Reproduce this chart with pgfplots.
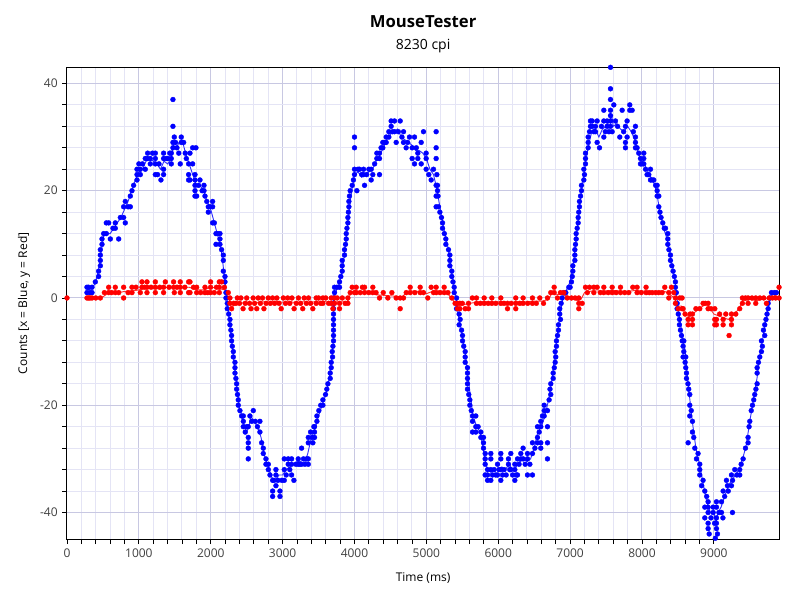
\documentclass[border=0pt]{standalone}
\usepackage{pgfplots}
\pgfplotsset{compat=1.18}
\usepackage{fontspec}
\setmainfont{Open Sans}
\definecolor{gmaj}{RGB}{200,200,226}
\definecolor{gmin}{RGB}{228,228,245}
\definecolor{bdot}{RGB}{0,0,255}
\definecolor{rdot}{RGB}{255,0,0}
\begin{document}
\begin{tikzpicture}
\useasboundingbox (-50.25pt,-45.5pt) rectangle (549.75pt,404.5pt);
\begin{axis}[
  at={(0,0)}, anchor=south west,
  scale only axis, width=534.2pt, height=354pt,
  xmin=0, xmax=9910, ymin=-45, ymax=43,
  xtick={0,1000,...,9000}, ytick={-40,-20,0,20,40},
  minor x tick num=4, minor y tick num=4,
  grid=both,
  major grid style={gmaj, line width=0.75pt},
  minor grid style={gmin, line width=0.75pt},
  tick align=outside, tick pos=left,
  major tick length=3.5pt, minor tick length=3.5pt,
  every tick/.style={black, line width=0.6pt},
  axis line style={black, line width=0.75pt},
  /pgf/number format/assume math mode=true,
  /pgf/number format/1000 sep={},
  tick label style={font=\fontsize{9}{10}\selectfont, text=black!75},
  xlabel={Time (ms)}, ylabel={Counts [x = Blue, y = Red]},
  label style={font=\fontsize{9}{10}\selectfont},
  xlabel style={at={(axis description cs:0.5,-0.082)}, anchor=center},
  ylabel style={at={(axis description cs:-0.0604,0.5)}, anchor=center},
]
% blue dots
\addplot[bdot, only marks, mark=*, mark size=1.85pt, mark options={fill=bdot, draw=bdot, line width=0.25pt}] coordinates {
(278,2)(278,1)(300,2)(320,1)(348,2)(348,1)(394,3)(440,4)(440,5)(464,6)(464,7)(464,8)(464,9)(487,11)(487,10)(510,12)(547,14)(547,12)(580,14)(603,11)(640,13)(672,13)(672,14)(719,11)(742,15)(788,15)(788,17)(811,14)(811,18)(850,17)(881,17)(881,19)(904,20)(927,21)(974,22)(974,23)(974,24)(1000,25)(1020,24)(1020,23)(1050,25)(1089,26)(1089,24)(1122,27)(1122,26)(1159,26)(1159,25)(1190,27)(1229,27)(1229,26)(1229,25)(1229,23)(1261,23)(1280,25)(1307,22)(1344,27)(1344,26)(1344,24)(1344,23)(1380,26)(1405,26)(1430,27)(1451,27)(1451,26)(1451,25)(1474,32)(1474,37)(1474,29)(1474,28)(1493,30)(1510,29)(1530,28)(1555,27)(1576,25)(1590,30)(1590,29)(1623,29)(1645,27)(1660,26)(1692,25)(1692,23)(1692,22)
(1711,27)(1711,22)(1748,28)(1748,25)(1781,23)(1781,22)(1781,21)(1781,20)(1781,19)(1794,28)(1804,19)(1830,21)(1850,22)(1880,20)(1906,21)(1906,20)(1920,19)(1945,18)(1966,17)(1966,16)(1990,17)(2026,18)(2026,17)(2026,14)(2050,14)(2073,12)(2073,10)(2100,12)(2128,12)(2128,11)(2128,10)(2151,9)(2175,8)(2175,7)(2175,5)(2198,4)(2198,3)(2212,1)(2212,0)(2230,-1)(2230,-2)(2250,-3)(2267,-4)(2267,-5)(2280,-6)(2290,-7)(2290,-8)(2300,-9)(2314,-10)(2314,-11)(2337,-12)(2337,-13)(2337,-14)(2350,-15)(2360,-16)(2360,-17)(2372,-18)(2383,-19)(2383,-20)(2406,-21)(2430,-22)(2453,-22)(2453,-23)(2453,-24)(2480,-25)(2500,-24)(2522,-24)(2522,-26)(2522,-27)(2522,-28)(2522,-30)(2545,-22)(2570,-23)(2592,-21)(2620,-23)(2650,-24)(2684,-23)(2684,-25)(2708,-27)(2731,-28)(2731,-29)(2768,-30)(2768,-31)(2801,-31)(2801,-32)(2824,-33)(2861,-34)(2861,-36)(2861,-37)(2880,-34)(2907,-32)(2907,-33)(2907,-35)(2935,-34)(2963,-36)(2963,-37)(2990,-34)(3023,-32)(3023,-34)(3023,-30)(3050,-33)(3078,-30)(3078,-31)(3100,-32)(3125,-30)(3125,-31)(3125,-33)(3157,-34)(3185,-31)(3217,-30)(3217,-31)(3240,-31)(3264,-28)(3264,-31)(3290,-30)(3310,-31)(3335,-30)(3357,-30)(3357,-31)(3357,-27)(3357,-26)(3389,-25)(3410,-26)(3421,-27)(3435,-24)
(3444,-24)(3444,-25)(3444,-26)(3477,-22)(3477,-23)(3504,-21)(3530,-20)(3560,-19)(3560,-20)(3597,-18)(3615,-17)(3630,-16)(3662,-15)(3662,-14)(3676,-12)(3676,-13)(3690,-10)(3695,-11)(3700,-9)(3708,-8)(3708,-7)(3708,-6)(3708,-5)(3708,-4)(3708,-3)(3708,-2)(3708,-1)(3708,0)(3722,1)(3722,2)(3755,2)(3792,2)(3792,3)(3810,4)(3829,5)(3829,6)(3829,7)(3861,8)(3861,9)(3875,10)(3885,11)(3885,12)(3895,13)(3908,14)(3908,15)(3915,16)(3922,17)(3922,18)(3930,19)(3940,20)(3968,21)(3985,22)(4000,23)(4000,24)(4000,30)(4000,28)(4033,20)(4050,24)(4070,24)(4100,23)(4126,23)(4126,24)(4140,21)(4170,23)(4200,24)(4232,24)(4232,22)(4255,23)(4280,25)(4311,26)(4311,27)(4348,27)(4348,26)(4348,23)(4370,28)(4394,29)(4394,28)(4420,29)(4441,30)(4441,29)(4478,30)(4478,31)(4510,32)(4510,33)(4530,31)(4557,31)(4557,33)(4580,29)(4610,31)(4636,33)(4660,30)(4682,29)(4682,31)(4719,28)(4740,29)(4765,30)(4802,28)(4802,26)(4835,25)(4835,30)(4860,28)(4881,26)(4881,27)(4928,25)(4928,29)(4960,31)(4997,27)(4997,26)(4997,24)(5034,23)(5067,22)(5099,24)(5136,31)(5136,28)(5136,26)(5136,21)(5136,19)(5136,17)
(5146,23)(5155,21)(5155,20)(5162,19)(5169,17)(5188,16)(5210,15)(5225,14)(5225,13)(5250,12)(5271,11)(5271,10)(5308,9)(5327,8)(5327,7)(5327,6)(5354,5)(5354,4)(5370,3)(5387,2)(5387,1)(5420,0)(5420,-1)(5420,-2)(5456,-3)(5456,-5)(5470,-4)(5490,-6)(5503,-7)(5503,-8)(5520,-9)(5540,-10)(5540,-11)(5540,-12)(5572,-13)(5572,-14)(5572,-15)(5572,-16)(5572,-17)(5590,-18)(5605,-19)(5605,-20)(5625,-21)(5642,-22)(5642,-23)(5642,-25)(5688,-22)(5688,-24)(5688,-25)(5720,-24)(5758,-25)(5758,-26)(5795,-26)(5795,-27)(5795,-28)(5818,-29)(5818,-30)(5818,-31)(5818,-33)(5851,-32)(5851,-33)(5851,-34)(5897,-29)(5897,-30)(5897,-32)(5897,-34)(5920,-33)(5943,-32)(5965,-33)(5990,-31)(5990,-33)(6010,-32)(6036,-29)(6036,-30)(6036,-32)(6036,-34)(6060,-33)(6082,-32)(6110,-33)(6142,-30)(6142,-31)(6160,-32)(6175,-29)(6175,-32)(6200,-33)(6231,-32)(6231,-34)(6231,-31)(6250,-33)(6268,-30)(6268,-33)(6290,-31)(6314,-29)(6314,-30)(6346,-28)(6346,-30)(6375,-31)(6407,-29)(6407,-30)(6407,-33)(6440,-31)(6476,-27)(6476,-29)(6476,-33)(6510,-28)(6546,-24)(6546,-26)(6546,-27)(6570,-25)(6592,-23)(6592,-24)(6592,-27)(6592,-28)(6615,-22)(6639,-20)(6639,-21)(6639,-22)(6685,-21)(6685,-24)(6685,-27)(6685,-30)(6708,-19)(6720,-17)(6731,-16)(6731,-18)(6764,-14)(6764,-15)(6780,-13)(6792,-10)(6792,-12)(6800,-11)(6810,-8)(6810,-9)(6825,-7)(6838,-5)(6838,-6)(6856,-3)(6856,-2)
(6866,-4)(6875,-1)(6890,0)(6913,1)(6940,1)(6982,2)(7000,2)(7019,3)(7030,4)(7038,5)(7038,6)(7066,7)(7066,8)(7066,9)(7075,10)(7084,11)(7084,12)(7098,13)(7112,14)(7112,15)(7120,16)(7130,17)(7130,18)(7145,19)(7158,20)(7158,21)(7191,22)(7191,24)(7200,23)(7214,25)(7214,26)(7214,27)(7251,28)(7251,29)(7251,30)(7270,31)(7283,32)(7283,33)(7307,33)(7307,32)(7330,31)(7353,31)(7353,32)(7376,33)(7376,29)(7409,28)(7436,32)(7469,33)(7469,30)(7469,35)(7490,31)(7515,32)(7515,33)(7540,31)(7562,32)(7562,33)(7562,34)(7562,35)(7562,37)(7562,39)(7562,43)(7585,31)(7608,36)(7631,33)(7660,32)(7691,30)(7724,35)(7745,31)(7770,32)(7770,29)(7770,28)(7793,33)(7793,30)(7830,36)(7830,35)(7863,35)(7880,31)(7909,32)(7909,30)(7909,29)(7909,28)(7932,28)(7955,27)(7979,26)(7979,25)(8000,25)(8025,27)(8025,26)(8025,25)(8050,24)(8071,23)(8095,23)(8118,24)(8118,22)(8140,22)(8164,22)(8190,21)(8211,21)(8211,20)(8211,19)(8234,19)(8234,17)(8250,16)(8265,15)(8289,14)(8310,13)(8327,13)(8359,12)(8359,11)(8359,10)(8375,9)(8396,8)(8396,7)(8415,6)(8433,5)(8450,4)(8465,3)(8465,2)(8478,1)(8489,-1)(8489,-2)(8505,-3)(8521,-4)(8521,-5)(8535,-6)(8549,-7)(8560,-8)(8572,-9)(8572,-11)
(8582,-8)(8582,-10)(8600,-12)(8609,-11)(8609,-13)(8619,-14)(8619,-15)(8642,-27)(8640,-16)(8650,-17)(8665,-18)(8665,-20)(8665,-22)(8685,-21)(8702,-23)(8702,-25)(8720,-26)(8735,-28)(8758,-30)(8780,-29)(8804,-31)(8804,-32)(8804,-33)(8830,-35)(8850,-34)(8874,-36)(8874,-39)(8874,-41)(8900,-37)(8920,-38)(8920,-39)(8920,-40)(8920,-42)(8920,-43)(8935,-44)(8960,-41)(8990,-39)(8990,-40)(9010,-42)(9020,-44.8)(9036,-38)(9036,-39)(9036,-41)(9036,-42)(9036,-43)(9050,-44)(9070,-40)(9106,-38)(9106,-40)(9126,-41)(9129,-36)(9150,-37)(9175,-34)(9189,-35)(9200,-36)(9245,-33)(9245,-35)(9259,-40)(9260,-34)(9291,-32)(9320,-33)(9360,-32)(9360,-33)(9380,-31)(9407,-30)(9440,-28)(9476,-26)(9476,-27)(9490,-24)(9500,-23)(9520,-21)(9537,-20)(9555,-19)(9569,-18)(9585,-17)(9602,-13)(9602,-14)(9602,-16)(9620,-12)(9639,-11)(9662,-8)(9662,-10)(9675,-9)(9690,-6)(9708,-5)(9708,-7)(9725,-4)(9740,-3)(9755,-1)(9755,-2)(9780,0)(9801,1)(9840,1)(9870,1)
};
% blue line
\addplot[bdot!80!white, line width=0.7pt, no marks] coordinates {
(278,1.5)(350,1.7)(400,3)(450,6)(480,9)(510,11.5)(560,12)(600,12)(650,13)(700,14)(750,15)(800,16.5)(850,18)(900,20)(950,22)(1000,23.5)(1050,24)(1100,25.5)(1150,26)(1200,25.5)(1250,25)(1300,24)(1350,25.5)(1400,25)(1450,26)(1480,28.5)(1520,28)(1560,29)(1600,29.5)(1650,27)(1700,25)(1750,23)(1800,21)(1850,21)(1900,20)(1950,18)(2000,16.5)(2050,14)(2100,11.5)(2150,8.5)(2200,3)(2250,-3)(2300,-9)(2350,-15)(2400,-20.5)(2450,-23)(2500,-25)(2530,-24)(2560,-22)(2600,-23)(2650,-24)(2700,-26)(2750,-29.5)(2800,-31.5)(2850,-33.5)(2900,-34)(2950,-33)(3000,-33)(3050,-32)(3100,-31.5)(3150,-31)(3200,-30.5)(3250,-30.5)(3300,-31)(3350,-29)(3400,-26)(3450,-24.5)(3500,-22)(3550,-20)(3600,-18)(3650,-15)(3700,-9)(3720,0)(3760,2)(3800,3)(3850,7)(3900,13)(3950,19)(4000,23)(4050,23.5)(4100,22.5)(4150,23)(4200,23.5)(4250,24)(4300,25.5)(4350,26.5)(4400,28)(4450,29.5)(4500,30.5)(4550,31)(4600,31.5)(4650,30)(4700,29.5)(4750,29)(4800,28.5)(4850,27.5)(4900,27.5)(4950,27)(5000,26)(5050,24)(5100,23)(5150,20)(5200,16)(5250,12.5)(5300,9.5)(5350,5)(5400,1)(5450,-3.5)(5500,-7)(5550,-11)(5600,-17)(5650,-22)(5700,-24)(5750,-25)(5800,-29)(5850,-32)(5900,-32.5)(5950,-32)(6000,-32)(6050,-31.5)(6100,-32)(6150,-31)(6200,-32)(6250,-31.5)(6300,-30.5)(6350,-30)(6400,-30.5)(6450,-30)(6500,-28)(6550,-25)(6600,-24)(6650,-22)(6700,-19)(6750,-15)(6800,-9)(6850,-4)(6900,0)(6950,1.5)(7000,3)(7050,7)(7100,13)(7150,19)(7200,24)(7250,28)(7300,31)(7350,31.5)(7400,30)(7450,31.5)(7500,32)(7550,33)(7580,34)(7600,32)(7650,32.5)(7700,31.5)(7750,31)(7800,32)(7850,31)(7900,29.5)(7950,27)(8000,25.5)(8050,24.5)(8100,23)(8150,22)(8200,20)(8250,16)(8300,13)(8350,11)(8400,7.5)(8450,4)(8500,-1.5)(8550,-6)(8600,-10)(8650,-17)(8700,-23)(8750,-28)(8800,-31)(8850,-34.5)(8900,-38)(8950,-40)(9000,-40)(9030,-42)(9060,-40)(9100,-39)(9150,-37)(9200,-35)(9250,-34)(9300,-33)(9350,-32)(9400,-30)(9450,-27.5)(9500,-23)(9550,-19)(9600,-15)(9650,-10)(9700,-6)(9750,-2)(9800,0.5)(9870,1)
};
% red dots
\addplot[rdot, only marks, mark=*, mark size=1.85pt, mark options={fill=rdot, draw=rdot, line width=0.25pt}] coordinates {
(0,0)(278,0)(300,0)(320,0)(348,0)(400,0)(464,0)(520,1)(580,2)(580,1)(620,1)(672,2)(672,1)(720,1)(788,0)(788,2)(850,1)(904,2)(904,1)(960,2)(1020,1)(1043,3)(1043,2)(1080,2)(1113,3)(1113,2)(1113,1)(1170,2)(1229,3)(1229,2)(1229,1)(1290,2)(1344,2)(1344,1)(1368,3)(1420,2)(1483,3)(1483,2)(1493,1)(1530,2)(1576,3)(1576,2)(1576,1)(1640,2)(1692,3)(1692,1)(1711,3)(1711,1)(1760,2)(1804,2)(1804,1)(1860,1)(1920,2)(1920,1)(1960,1)(1998,3)(1998,2)(1998,1)(2050,1)(2080,2)(2119,3)(2119,2)(2119,1)(2151,3)(2190,2)(2244,1)(2267,0)(2267,-1)(2290,-2)(2320,-1)(2350,-1)(2370,0)(2400,-1)(2420,0)(2450,-2)(2480,-1)(2500,0)(2540,-1)(2560,-2)(2590,0)(2610,-1)(2640,-2)(2660,0)(2690,-1)(2720,0)(2740,-2)(2770,-1)(2800,0)(2830,-1)(2860,0)(2890,-1)(2920,0)(2950,-1)(2980,-2)(3010,0)(3040,-1)(3070,0)(3100,-1)(3130,0)(3160,-2)(3190,-1)(3220,0)(3250,-1)(3280,-2)(3300,0)(3330,-1)(3360,0)(3390,-1)(3420,-2)(3467,0)(3467,-1)(3500,0)(3530,-1)(3560,0)(3560,-1)(3600,0)(3640,-1)(3676,0)(3676,-1)(3700,-2)(3722,0)(3722,-1)(3760,0)(3792,-1)(3792,-2)(3830,0)(3870,-1)(3908,0)(3908,-1)(3940,1)(3968,2)(4000,1)(4024,2)(4024,1)(4080,1)(4110,2)(4140,2)(4140,1)(4200,1)(4255,2)(4255,1)(4300,1)(4348,0)(4400,1)(4464,0)(4520,1)(4580,0)(4636,0)(4636,-2)(4682,0)(4720,1)(4775,2)(4775,1)(4840,1)(4914,2)(4914,1)(4960,1)(5020,0)(5067,2)(5100,1)(5136,2)(5136,1)(5190,1)(5248,2)(5248,1)(5300,1)(5354,0)(5400,-1)(5433,-1)(5433,-2)(5466,-1)(5466,-2)(5500,-1)(5540,-2)(5586,-1)(5586,-2)(5640,0)(5697,0)(5697,-1)(5750,-1)(5804,0)(5804,-1)(5860,-1)(5911,0)(5911,-1)(5966,-1)(6036,0)(6036,-1)(6080,-1)(6129,-1)(6129,-2)(6180,-1)(6244,0)(6244,-1)(6244,-2)(6300,-1)(6346,0)(6346,-1)(6410,-1)(6476,0)(6476,-1)(6530,-1)(6578,0)(6630,-1)(6685,0)(6731,1)(6778,2)(6778,1)(6824,0)(6866,1)(6913,1)(6960,0)(7019,0)(7070,0)(7121,0)(7121,-1)(7121,-2)(7168,-1)(7214,2)(7240,1)(7270,2)(7330,2)(7330,1)(7376,2)(7420,1)(7469,1)(7469,2)(7530,1)(7585,2)(7585,1)(7640,1)(7701,2)(7701,1)(7760,1)(7816,1)(7872,2)(7932,2)(7932,1)(7990,1)(8057,2)(8057,1)(8100,1)(8141,1)(8190,1)(8234,1)(8280,1)(8317,2)(8373,1)(8373,0)(8410,2)(8442,1)(8465,0)(8465,-1)(8503,-2)(8526,0)(8558,0)(8558,-2)(8572,-2)(8600,-3)(8642,-4)(8642,-5)(8670,-3)(8702,-3)(8702,-4)(8702,-5)(8750,-2)(8804,-2)(8850,-1)(8880,-1)(8920,-1)(8920,-2)(8960,-2)(9013,-2)(9013,-4)(9013,-5)(9036,-4)(9036,-5)(9080,-3)(9129,-4)(9129,-5)(9166,-3)(9212,-7)(9245,-3)(9245,-4)(9245,-5)(9305,-3)(9360,-2)(9397,0)(9397,-1)(9440,0)(9476,0)(9476,-1)(9530,0)(9583,0)(9583,-1)(9640,0)(9694,0)(9731,-1)(9770,0)(9815,0)(9860,0)(9907,2)(9907,0)
};
% red line
\addplot[rdot!80!white, line width=0.7pt, no marks] coordinates {
(278,0)(500,0.2)(580,1)(700,1)(800,1.2)(900,1.3)(1000,1.5)(1100,2)(1200,1.8)(1300,1.7)(1400,2)(1500,2)(1600,2)(1700,2)(1800,1.5)(1900,1.5)(2000,2)(2100,1.8)(2200,1.5)(2250,0)(2280,-1.5)(2300,-2)(2320,-1)(2400,-1)(2500,-0.8)(2600,-1)(2700,-0.7)(2800,-0.8)(2900,-0.6)(3000,-0.8)(3100,-0.7)(3200,-0.9)(3300,-0.7)(3400,-0.8)(3500,-0.6)(3600,-0.7)(3700,-0.8)(3800,-0.7)(3900,-0.8)(3950,1)(4000,1.3)(4100,1.2)(4200,1.3)(4300,0.6)(4400,0.5)(4500,0.4)(4600,0.3)(4650,0)(4700,0.7)(4800,1.3)(4900,1.2)(5000,0.8)(5100,1.3)(5200,1.3)(5300,0.7)(5350,0)(5400,-1)(5500,-1.3)(5600,-1)(5700,-0.8)(5800,-0.7)(5900,-0.8)(6000,-0.7)(6100,-0.9)(6200,-0.8)(6300,-0.7)(6400,-0.7)(6500,-0.6)(6600,-0.6)(6700,-0.3)(6750,1)(6800,0.7)(6900,0.6)(7000,0.2)(7100,-0.5)(7150,-0.3)(7200,1)(7300,1.3)(7400,1.3)(7500,1.3)(7600,1.4)(7700,1.3)(7800,1.2)(7900,1.4)(8000,1.3)(8100,1.2)(8200,1.1)(8300,1.3)(8350,1)(8450,0)(8500,-1.5)(8550,-1.5)(8600,-3)(8650,-3.5)(8700,-3)(8750,-2.5)(8800,-2)(8900,-1)(8950,-2)(9000,-3)(9100,-3.5)(9200,-4)(9250,-3.5)(9350,-2)(9400,-0.5)(9500,-0.3)(9600,-0.5)(9700,-0.2)(9800,0)(9907,1)
};
\end{axis}
\node[font=\bfseries\fontsize{12.5}{14}\selectfont, anchor=base] at (267.1pt,383.5pt) {MouseTester};
\node[font=\fontsize{10.5}{12}\selectfont, anchor=base] at (267.1pt,367pt) {8230 cpi};
\end{tikzpicture}
\end{document}
